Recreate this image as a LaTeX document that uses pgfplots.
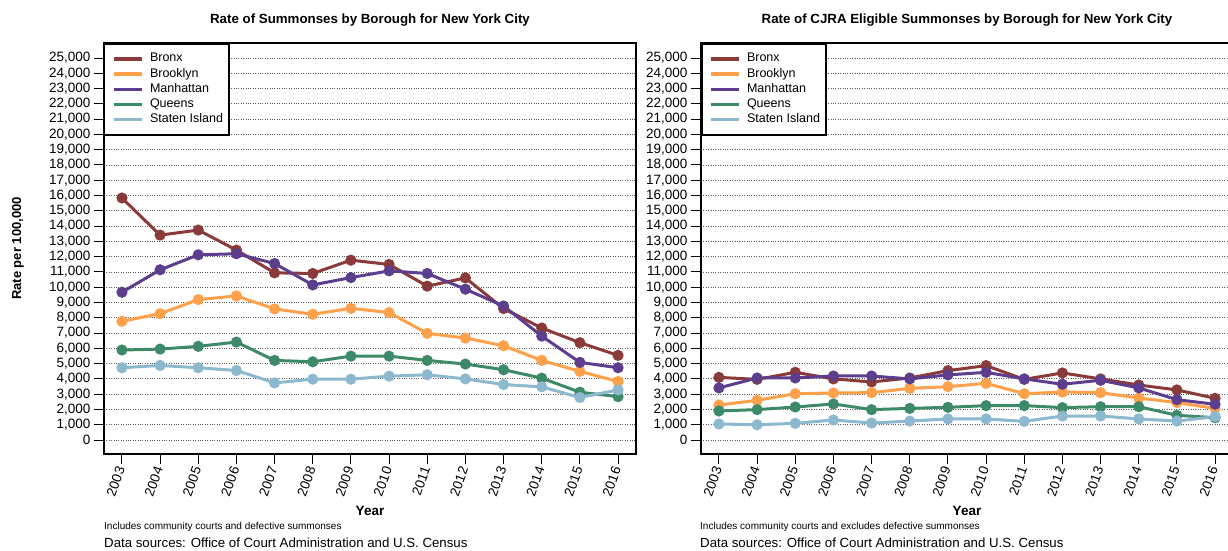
\documentclass[border=0pt]{standalone}
\usepackage{fontspec}
\setmainfont{Liberation Sans}
\usepackage{pgfplots}
\pgfplotsset{compat=1.18}

\definecolor{bronx}{HTML}{8B3A3A}
\definecolor{brooklyn}{HTML}{FFA04A}
\definecolor{manhattan}{HTML}{5C3D8E}
\definecolor{queens}{HTML}{3D8A68}
\definecolor{staten}{HTML}{8CB8D0}

\pgfplotsset{
  boro/.style={
    scale only axis, width=532pt, height=411pt,
    xmin=2002.53, xmax=2016.47, ymin=-916, ymax=25982,
    xtick={2003,...,2016}, ytick={0,1000,...,25000},
    scaled ticks=false,
    /pgf/number format/assume math mode=true,
    yticklabel style={/pgf/number format/1000 sep={,}},
    xticklabel style={/pgf/number format/1000 sep={}, rotate=70, anchor=east},
    tick label style={font=\fontsize{13.5}{15}\selectfont},
    xtick pos=bottom, ytick pos=left,
    tick align=outside, major tick length=10pt,
    tick style={black, line width=1pt},
    axis line style={line width=1.8pt},
    ymajorgrids,
    major grid style={dotted, black!65, line width=0.8pt},
    title style={at={(axis description cs:0.5,1)}, anchor=center, yshift=17pt,
      font=\bfseries\fontsize{13.3}{15}\selectfont},
    xlabel style={at={(axis description cs:0.5,0)}, anchor=center, yshift=-57pt,
      font=\bfseries\fontsize{13.5}{15}\selectfont},
    ylabel style={at={(axis description cs:-0.1617,0.5)}, anchor=center,
      font=\bfseries\fontsize{13}{15}\selectfont},
    every axis plot/.append style={line width=3pt, mark=*, mark size=4pt},
    legend image code/.code={\path (0pt,0pt); \draw[#1, line width=3.5pt] (4pt,0pt) -- (32pt,0pt);},
    legend cell align=left,
    legend style={at={(axis description cs:0,1)}, anchor=north west,
      draw=black, line width=1.5pt, fill=white,
      font=\fontsize{12.5}{15}\selectfont,
      inner xsep=4pt, inner ysep=7.5pt, row sep=0pt,
      nodes={text height=9pt, text depth=3pt, inner ysep=1.6pt},
      /tikz/every odd column/.append style={column sep=4pt}},
  }
}

\begin{document}
\begin{tikzpicture}
\useasboundingbox (0pt,0pt) rectangle (1228pt,-550pt);

\begin{axis}[boro, at={(104pt,-454pt)}, anchor=south west,
  title={Rate of Summonses by Borough for New York City},
  xlabel={Year}, ylabel={Rate per 100,000}]
\addplot[bronx] coordinates {(2003,15840) (2004,13410) (2005,13740) (2006,12430) (2007,10940) (2008,10900) (2009,11770) (2010,11490) (2011,10070) (2012,10610) (2013,8600) (2014,7330) (2015,6370) (2016,5540)};
\addlegendentry{Bronx}
\addplot[brooklyn] coordinates {(2003,7770) (2004,8270) (2005,9190) (2006,9430) (2007,8580) (2008,8230) (2009,8620) (2010,8340) (2011,6980) (2012,6670) (2013,6170) (2014,5210) (2015,4490) (2016,3830)};
\addlegendentry{Brooklyn}
\addplot[manhattan] coordinates {(2003,9670) (2004,11140) (2005,12120) (2006,12190) (2007,11550) (2008,10150) (2009,10630) (2010,11070) (2011,10900) (2012,9870) (2013,8770) (2014,6800) (2015,5080) (2016,4730)};
\addlegendentry{Manhattan}
\addplot[queens] coordinates {(2003,5890) (2004,5950) (2005,6130) (2006,6410) (2007,5210) (2008,5120) (2009,5490) (2010,5490) (2011,5210) (2012,4970) (2013,4600) (2014,4050) (2015,3130) (2016,2840)};
\addlegendentry{Queens}
\addplot[staten] coordinates {(2003,4730) (2004,4880) (2005,4730) (2006,4550) (2007,3740) (2008,3980) (2009,3980) (2010,4180) (2011,4270) (2012,4000) (2013,3630) (2014,3480) (2015,2780) (2016,3280)};
\addlegendentry{Staten Island}
\end{axis}

\begin{axis}[boro, at={(701pt,-454pt)}, anchor=south west,
  title={Rate of CJRA Eligible Summonses by Borough for New York City},
  xlabel={Year}]
\addplot[bronx] coordinates {(2003,4100) (2004,3970) (2005,4430) (2006,4000) (2007,3800) (2008,4060) (2009,4540) (2010,4870) (2011,3970) (2012,4390) (2013,4000) (2014,3600) (2015,3280) (2016,2730)};
\addlegendentry{Bronx}
\addplot[brooklyn] coordinates {(2003,2290) (2004,2600) (2005,3030) (2006,3080) (2007,3100) (2008,3380) (2009,3490) (2010,3710) (2011,3030) (2012,3140) (2013,3100) (2014,2750) (2015,2450) (2016,2070)};
\addlegendentry{Brooklyn}
\addplot[manhattan] coordinates {(2003,3410) (2004,4060) (2005,4060) (2006,4190) (2007,4190) (2008,4000) (2009,4260) (2010,4430) (2011,4000) (2012,3650) (2013,3910) (2014,3410) (2015,2640) (2016,2340)};
\addlegendentry{Manhattan}
\addplot[queens] coordinates {(2003,1900) (2004,1990) (2005,2160) (2006,2360) (2007,1990) (2008,2070) (2009,2140) (2010,2250) (2011,2250) (2012,2120) (2013,2180) (2014,2180) (2015,1620) (2016,1460)};
\addlegendentry{Queens}
\addplot[staten] coordinates {(2003,1050) (2004,1000) (2005,1090) (2006,1310) (2007,1110) (2008,1240) (2009,1380) (2010,1380) (2011,1220) (2012,1570) (2013,1570) (2014,1380) (2015,1240) (2016,1530)};
\addlegendentry{Staten Island}
\end{axis}

\node[anchor=west, inner sep=0pt, font=\fontsize{10}{12}\selectfont] at (104pt,-527pt) {Includes community courts and defective summonses};
\node[anchor=west, inner sep=0pt, font=\fontsize{13.25}{15}\selectfont] at (104pt,-543pt) {Data sources: Office of Court Administration and U.S. Census};
\node[anchor=west, inner sep=0pt, font=\fontsize{10}{12}\selectfont] at (700pt,-527pt) {Includes community courts and excludes defective summonses};
\node[anchor=west, inner sep=0pt, font=\fontsize{13.25}{15}\selectfont] at (700pt,-543pt) {Data sources: Office of Court Administration and U.S. Census};
\end{tikzpicture}
\end{document}
